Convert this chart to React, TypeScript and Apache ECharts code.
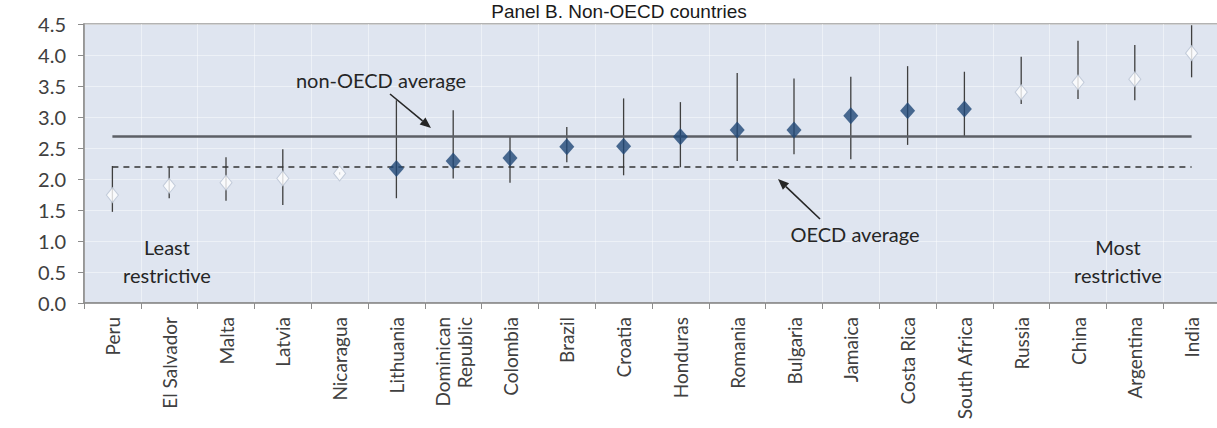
import React, { useEffect, useRef } from "react";
import * as echarts from "echarts";

// Countries ordered from least to most restrictive
const countries = [
  "Peru", "El Salvador", "Malta", "Latvia", "Nicaragua", "Lithuania",
  "Dominican\nRepublic", "Colombia", "Brazil", "Croatia", "Honduras",
  "Romania", "Bulgaria", "Jamaica", "Costa Rica", "South Africa",
  "Russia", "China", "Argentina", "India",
];

// Point estimates
const scores = [
  1.74, 1.89, 1.94, 2.01, 2.09, 2.17, 2.29, 2.34, 2.52, 2.53, 2.68,
  2.79, 2.79, 3.02, 3.10, 3.13, 3.40, 3.56, 3.61, 4.03,
];
// Lower and upper ends of the ranges
const lows = [
  1.47, 1.69, 1.65, 1.58, 2.07, 1.69, 2.01, 1.94, 2.27, 2.06, 2.19,
  2.29, 2.40, 2.32, 2.55, 2.68, 3.21, 3.29, 3.27, 3.64,
];
const highs = [
  2.21, 2.19, 2.35, 2.48, 2.11, 3.27, 3.11, 2.68, 2.84, 3.30, 3.24,
  3.71, 3.62, 3.65, 3.82, 3.73, 3.97, 4.23, 4.16, 4.48,
];
// Whether the score differs significantly from the OECD average (filled marker)
const filled = [
  false, false, false, false, false, true, true, true, true, true, true,
  true, true, true, true, true, false, false, false, false,
];

const nonOecdAverage = 2.69;
const oecdAverage = 2.19;

const yTicks = { min: 0, max: 4.5, interval: 0.5 };

const LABEL_FONT = "Lato, 'Open Sans', sans-serif";

function arrow(x1: number, y1: number, x2: number, y2: number) {
  const dx = x2 - x1;
  const dy = y2 - y1;
  const len = Math.sqrt(dx * dx + dy * dy);
  const ux = dx / len;
  const uy = dy / len;
  const px = -uy;
  const py = ux;
  const head = 11;
  const half = 4.5;
  const bx = x2 - head * ux;
  const by = y2 - head * uy;
  return [
    {
      type: "line",
      shape: { x1, y1, x2: bx, y2: by },
      style: { stroke: "#262626", lineWidth: 1.6 },
      z: 20,
    },
    {
      type: "polygon",
      shape: {
        points: [
          [x2, y2],
          [bx + half * px, by + half * py],
          [bx - half * px, by - half * py],
        ],
      },
      style: { fill: "#262626" },
      z: 20,
    },
  ];
}

export default function App() {
  const ref = useRef<HTMLDivElement>(null);

  useEffect(() => {
    if (!ref.current) return;
    const chart = echarts.init(ref.current, undefined, { renderer: "svg" });

    const rangeData = countries.map((_, i) => [i, lows[i], highs[i]]);
    const openPoints = scores.map((v, i) => (filled[i] ? "-" : v));
    const solidPoints = scores.map((v, i) => (filled[i] ? v : "-"));

    const annotation = (text: string, x: number, y: number) => ({
      type: "text",
      x,
      y,
      z: 20,
      style: {
        text,
        fill: "#262626",
        font: `20px ${LABEL_FONT}`,
        align: "center",
        verticalAlign: "middle",
        lineHeight: 28,
      },
    });

    chart.setOption({
      animation: false,
      backgroundColor: "#ffffff",
      grid: {
        left: 84,
        right: 2,
        top: 24,
        bottom: 125,
        show: true,
        backgroundColor: "#dfe5f0",
        borderColor: "#9a9a9a",
        borderWidth: 1.5,
      },
      xAxis: {
        type: "category",
        data: countries,
        boundaryGap: true,
        axisLine: { lineStyle: { color: "#8c8c8c", width: 1.5 } },
        axisTick: { show: true, length: 6, lineStyle: { color: "#8c8c8c" } },
        splitLine: { show: true, lineStyle: { color: "rgba(255,255,255,0.45)", width: 1 } },
        axisLabel: {
          rotate: 90,
          margin: 14,
          color: "#404040",
          fontFamily: LABEL_FONT,
          fontSize: 19,
          lineHeight: 22,
          interval: 0,
        },
      },
      yAxis: {
        type: "value",
        min: yTicks.min,
        max: yTicks.max,
        interval: yTicks.interval,
        axisLine: { show: true, lineStyle: { color: "#8c8c8c", width: 1.5 } },
        axisTick: { show: true, length: 6, lineStyle: { color: "#8c8c8c" } },
        splitLine: { show: true, lineStyle: { color: "rgba(255,255,255,0.45)", width: 1 } },
        axisLabel: {
          margin: 18,
          color: "#404040",
          fontFamily: LABEL_FONT,
          fontSize: 20,
          formatter: (v: number) => v.toFixed(1),
        },
      },
      series: [
        {
          type: "custom",
          name: "range",
          data: rangeData,
          encode: { x: 0, y: [1, 2] },
          z: 3,
          renderItem: (params: any, api: any) => {
            const x = api.value(0);
            const lo = api.coord([x, api.value(1)]);
            const hi = api.coord([x, api.value(2)]);
            return {
              type: "line",
              shape: { x1: lo[0], y1: lo[1], x2: hi[0], y2: hi[1] },
              style: { stroke: "#3f3f3f", lineWidth: 1.3 },
            };
          },
          markLine: {
            silent: true,
            symbol: ["none", "none"],
            label: { show: false },
            data: [
              [
                { coord: [0, nonOecdAverage] },
                { coord: [countries.length - 1, nonOecdAverage] },
              ],
            ],
            lineStyle: { color: "#5c5f66", width: 2.6, type: "solid" },
          },
        },
        {
          type: "scatter",
          name: "open",
          data: openPoints,
          symbol: "diamond",
          symbolSize: [12, 15],
          z: 4,
          itemStyle: { color: "#ffffff", borderColor: "#b8c2d2", borderWidth: 1 },
          markLine: {
            silent: true,
            symbol: ["none", "none"],
            label: { show: false },
            data: [
              [
                { coord: [0, oecdAverage] },
                { coord: [countries.length - 1, oecdAverage] },
              ],
            ],
            lineStyle: { color: "#333333", width: 1.6, type: [6, 5] },
          },
        },
        {
          type: "scatter",
          name: "filled",
          data: solidPoints,
          symbol: "diamond",
          symbolSize: [15, 17],
          z: 5,
          itemStyle: { color: "#1f4777" },
        },
      ],
      graphic: [
        {
          type: "text",
          x: 619,
          y: 21,
          z: 20,
          style: {
            text: "Panel B. Non-OECD countries",
            fill: "#1a1a1a",
            font: "19px 'Liberation Sans', Arial, sans-serif",
            align: "center",
            verticalAlign: "bottom",
          },
        },
        annotation("non-OECD average", 381, 80),
        annotation("OECD average", 855, 234),
        annotation("Least\nrestrictive", 167, 261),
        annotation("Most\nrestrictive", 1118, 261),
        ...arrow(390, 94, 431, 128),
        ...arrow(820, 219, 778, 179),
      ],
    });

    return () => chart.dispose();
  }, []);

  return (
    <div
      style={{
        position: "fixed",
        left: 0,
        top: 0,
        width: 1217,
        height: 428,
        overflow: "hidden",
        background: "#ffffff",
      }}
    >
      <div ref={ref} style={{ width: 1222, height: 428 }} />
    </div>
  );
}
